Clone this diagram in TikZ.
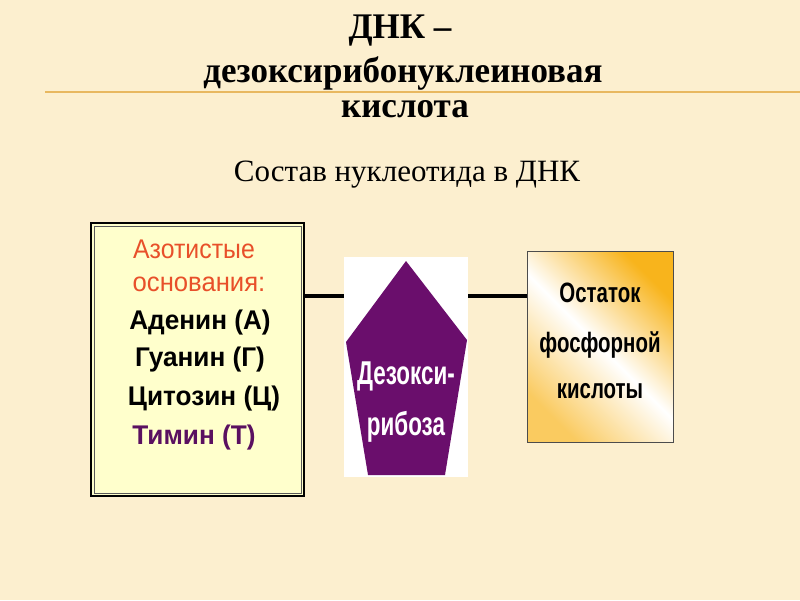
\documentclass[tikz,border=0pt]{standalone}
\usepackage{fontspec}
\setmainfont{Liberation Serif}
\newfontfamily\sansf{Liberation Sans}
\definecolor{bg}{HTML}{FCEFCF}
\definecolor{rule}{HTML}{E8B860}
\definecolor{boxfill}{HTML}{FFFFCC}
\definecolor{azot}{HTML}{E8502A}
\definecolor{timin}{HTML}{5A1060}
\definecolor{penta}{HTML}{6A0E6C}
\definecolor{phos}{HTML}{F8B41C}
\tikzset{
  title/.style={font=\fontsize{35}{40}\selectfont\bfseries, anchor=base, inner sep=0},
  subt/.style={font=\fontsize{31}{34}\selectfont, anchor=center, inner sep=0},
  lefttxt/.style={font=\sansf\bfseries\fontsize{27}{30}\selectfont, anchor=center, inner sep=0},
  leftred/.style={font=\sansf\fontsize{27}{30}\selectfont, text=azot, anchor=center, inner sep=0},
  midtxt/.style={font=\sansf\bfseries\fontsize{33}{36}\selectfont, text=white, anchor=center, inner sep=0},
  righttxt/.style={font=\sansf\bfseries\fontsize{28}{32}\selectfont, anchor=center, inner sep=0},
  link/.style={line width=4pt, black},
}
\begin{document}
\begin{tikzpicture}[x=1pt,y=-1pt]
\fill[bg] (0,0) rectangle (800,600);
\useasboundingbox (0,0) rectangle (800,600);
% rule
\draw[rule, line width=1.5pt] (45,92) -- (800,92);
% titles
\node[title] (t1) at (400,38) {\scalebox{1.0}[1.03]{ДНК –}};
\node[title] (t2) at (403,82) {\scalebox{1.0}[1.03]{дезоксирибонуклеиновая}};
\node[title] (t3) at (405,117) {\scalebox{1.0}[1.03]{кислота}};
\node[subt] (st) at (407,175) {Состав нуклеотида в ДНК};
% left box
\node[draw=black, line width=2pt, fill=boxfill, minimum width=213pt, minimum height=273pt, inner sep=0] (lb) at (197.5,359.5) {};
\draw[gray!70!black, line width=0.6pt] (94,226) rectangle (301,493);
\node[leftred] (l1) at (194,249) {\scalebox{0.92}[1]{Азотистые}};
\node[leftred] (l2) at (199,284) {\scalebox{0.95}[1]{основания:}};
\node[lefttxt] (l3) at (200,323) {\scalebox{0.97}[1]{Аденин (А)}};
\node[lefttxt] (l4) at (200,360) {\scalebox{0.97}[1]{Гуанин (Г)}};
\node[lefttxt] (l5) at (204,399) {\scalebox{0.97}[1]{Цитозин (Ц)}};
\node[lefttxt, text=timin] (l6) at (194,438) {\scalebox{0.97}[1]{Тимин (Т)}};
% middle
\node[fill=white, minimum width=124pt, minimum height=220pt, inner sep=0] (mb) at (406,367) {};
\fill[penta] (406,261) -- (467,340) -- (445,475) -- (368,475) -- (346,342) -- cycle;
\node[midtxt] (m1) at (406,376) {\scalebox{0.68}[1]{Дезокси-}};
\node[midtxt] (m2) at (406,427) {\scalebox{0.68}[1]{рибоза}};
% right box
\shade[top color=phos, bottom color=phos!70, middle color=white, shading angle=-45] (527,251) rectangle (673,442);
\node[draw=gray!60!black, line width=0.8pt, minimum width=146pt, minimum height=191pt, inner sep=0] (rb) at (600,346.5) {};
\node[righttxt] (r1) at (600,293) {\scalebox{0.73}[1]{Остаток}};
\node[righttxt] (r2) at (600,345) {\scalebox{0.73}[1]{фосфорной}};
\node[righttxt] (r3) at (600,391) {\scalebox{0.73}[1]{кислоты}};
% links
\draw[link] (lb.east |- 0,296) -- (mb.west |- 0,296);
\draw[link] (mb.east |- 0,296) -- (rb.west |- 0,296);
\end{tikzpicture}
\end{document}
